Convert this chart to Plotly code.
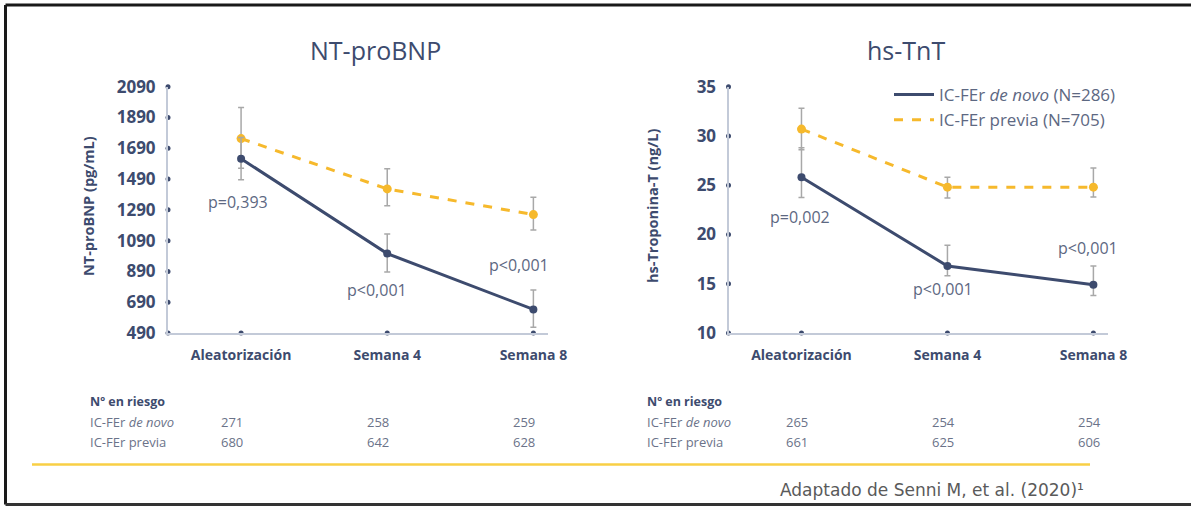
import plotly.graph_objects as go

W, H = 1191, 507

categories = ["Aleatorización", "Semana 4", "Semana 8"]
cat_idx = [0, 1, 2]

# NT-proBNP (pg/mL)
bnp_novo = [1622, 1006, 643]
bnp_novo_hi = [1760, 1133, 769]
bnp_novo_lo = [1485, 886, 527]
bnp_previa = [1753, 1426, 1259]
bnp_previa_hi = [1955, 1557, 1372]
bnp_previa_lo = [1560, 1317, 1159]
bnp_ticks = [490, 690, 890, 1090, 1290, 1490, 1690, 1890, 2090]
bnp_pvals = ["p=0,393", "p<0,001", "p<0,001"]

# hs-TnT (ng/L)
tnt_novo = [25.8, 16.8, 14.9]
tnt_novo_hi = [28.8, 18.9, 16.8]
tnt_novo_lo = [23.75, 15.8, 13.8]
tnt_previa = [30.7, 24.8, 24.8]
tnt_previa_hi = [32.8, 25.8, 26.75]
tnt_previa_lo = [28.6, 23.7, 23.8]
tnt_ticks = [10, 15, 20, 25, 30, 35]
tnt_pvals = ["p=0,002", "p<0,001", "p<0,001"]

# Nº en riesgo
risk_bnp_novo = [271, 258, 259]
risk_bnp_previa = [680, 642, 628]
risk_tnt_novo = [265, 254, 254]
risk_tnt_previa = [661, 625, 606]

NAVY = "#3d4b6e"
YELLOW = "#f6b92c"
ERR = "#a8a8a8"
AXIS = "#c3cad8"
TXT = "#5d6882"
FONT = "Open Sans"

def px_x(p):
    return p / W

def px_y(p):
    return 1 - p / H

fig = go.Figure()

def err(vals, hi, lo):
    return dict(type="data", symmetric=False,
                array=[h - v for h, v in zip(hi, vals)],
                arrayminus=[v - l for v, l in zip(vals, lo)],
                color=ERR, thickness=1.5, width=3)

def add_panel(xa, ya, novo, nhi, nlo, prev, phi, plo, ticks, legend):
    fig.add_trace(go.Scatter(
        x=cat_idx, y=prev, xaxis=xa, yaxis=ya, mode="lines+markers",
        line=dict(color=YELLOW, width=3, dash="dash"),
        marker=dict(color=YELLOW, size=9), error_y=err(prev, phi, plo),
        showlegend=False))
    fig.add_trace(go.Scatter(
        x=cat_idx, y=novo, xaxis=xa, yaxis=ya, mode="lines+markers",
        line=dict(color=NAVY, width=3),
        marker=dict(color=NAVY, size=8), error_y=err(novo, nhi, nlo),
        showlegend=False))
    # axis dots
    fig.add_trace(go.Scatter(
        x=[-0.5] * len(ticks), y=ticks, xaxis=xa, yaxis=ya, mode="markers",
        marker=dict(color=NAVY, size=5), cliponaxis=False,
        showlegend=False, hoverinfo="skip"))
    fig.add_trace(go.Scatter(
        x=cat_idx, y=[ticks[0]] * 3, xaxis=xa, yaxis=ya, mode="markers",
        marker=dict(color=NAVY, size=5), cliponaxis=False,
        showlegend=False, hoverinfo="skip"))
    if legend:
        fig.add_trace(go.Scatter(
            x=[None], y=[None], xaxis=xa, yaxis=ya, mode="lines",
            line=dict(color=NAVY, width=3),
            name="IC-FEr <i>de novo</i> (N=286)", legendrank=1))
        fig.add_trace(go.Scatter(
            x=[None], y=[None], xaxis=xa, yaxis=ya, mode="lines",
            line=dict(color=YELLOW, width=3, dash="dash"),
            name="IC-FEr previa (N=705)", legendrank=2))

add_panel("x", "y", bnp_novo, bnp_novo_hi, bnp_novo_lo,
          bnp_previa, bnp_previa_hi, bnp_previa_lo, bnp_ticks, False)
add_panel("x2", "y2", tnt_novo, tnt_novo_hi, tnt_novo_lo,
          tnt_previa, tnt_previa_hi, tnt_previa_lo, tnt_ticks, True)

ydom = [px_y(333), px_y(86.7)]
xcommon = dict(range=[-0.5, 2.1], tickvals=cat_idx, ticktext=categories,
               showgrid=False, zeroline=False, showline=True, linecolor=AXIS,
               linewidth=2, ticks="", ticklabelstandoff=8, automargin=False,
               tickfont=dict(family=FONT, size=14, color=NAVY, weight="bold"))
ycommon = dict(showgrid=False, zeroline=False, showline=True, linecolor=AXIS,
               linewidth=2, ticks="", ticklabelstandoff=7, automargin=False,
               tickfont=dict(family=FONT, size=17, color=NAVY, weight="bold"))

fig.update_layout(
    width=W, height=H, margin=dict(l=0, r=0, t=0, b=0, autoexpand=False),
    paper_bgcolor="white", plot_bgcolor="white",
    xaxis=dict(domain=[px_x(168), px_x(548)], anchor="y", **xcommon),
    yaxis=dict(domain=ydom, anchor="x", range=[490, 2090], tickvals=bnp_ticks, **ycommon),
    xaxis2=dict(domain=[px_x(728.5), px_x(1108)], anchor="y2", **xcommon),
    yaxis2=dict(domain=ydom, anchor="x2", range=[10, 35], tickvals=tnt_ticks, **ycommon),
    legend=dict(x=px_x(889), y=px_y(77), xanchor="left", yanchor="top",
                bgcolor="rgba(0,0,0,0)", itemwidth=40, tracegroupgap=0,
                font=dict(family=FONT, size=17, color=TXT)),
    showlegend=True,
)

def pann(text, x, y, size, color=NAVY, xanchor="center", bold=False, angle=0, family=FONT):
    f = dict(family=family, size=size, color=color)
    if bold:
        f["weight"] = "bold"
    return dict(text=text, x=px_x(x), y=px_y(y), xref="paper", yref="paper",
                xanchor=xanchor, yanchor="middle", textangle=angle,
                showarrow=False, font=f)

ann = []
# titles
ann.append(pann("NT-proBNP", 375, 50, 25))
ann.append(pann("hs-TnT", 906, 50, 25))
# y titles
ann.append(pann("NT-proBNP (pg/mL)", 88, 206, 14.5, bold=True, angle=-90))
ann.append(pann("hs-Troponina-T (ng/L)", 652, 206, 14.5, bold=True, angle=-90))
# p values
pfont = dict(family=FONT, size=16, color=TXT)
bnp_p_off = [-0.02, -0.07, -0.1]
bnp_p_y = [1340, 770, 935]
for i in cat_idx:
    ann.append(dict(text=bnp_pvals[i], x=i + bnp_p_off[i], y=bnp_p_y[i], xref="x", yref="y",
                    xanchor="center", yanchor="middle", showarrow=False, font=pfont))
tnt_p_off = [-0.01, -0.03, -0.04]
tnt_p_y = [21.8, 14.5, 18.6]
for i in cat_idx:
    ann.append(dict(text=tnt_pvals[i], x=i + tnt_p_off[i], y=tnt_p_y[i], xref="x2", yref="y2",
                    xanchor="center", yanchor="middle", showarrow=False, font=pfont))
# risk table
TCOL = "#6b7389"
tfont = dict(family=FONT, size=13, color=TCOL)
for xa, xleft, novo, prev, shift in [("x", 88, risk_bnp_novo, risk_bnp_previa, -9),
                                     ("x2", 645, risk_tnt_novo, risk_tnt_previa, -4)]:
    ann.append(pann("Nº en riesgo", xleft, 401, 12.5, bold=True, xanchor="left"))
    ann.append(pann("IC-FEr <i>de novo</i>", xleft, 421.7, 13, color=TCOL, xanchor="left"))
    ann.append(pann("IC-FEr previa", xleft, 441.7, 13, color=TCOL, xanchor="left"))
    for i in cat_idx:
        ann.append(dict(text=str(novo[i]), x=i, y=px_y(421.7), xref=xa, yref="paper",
                        xanchor="center", yanchor="middle",
                        xshift=shift, showarrow=False, font=tfont))
        ann.append(dict(text=str(prev[i]), x=i, y=px_y(441.7), xref=xa, yref="paper",
                        xanchor="center", yanchor="middle",
                        xshift=shift, showarrow=False, font=tfont))
# footer
ann.append(pann("Adaptado de Senni M, et al. (2020)¹", 1086, 490, 17, color="#5a5a5a",
                xanchor="right", family="DejaVu Sans"))
fig.update_layout(annotations=ann)

shapes = [
    dict(type="line", xref="paper", yref="paper", x0=px_x(32), x1=px_x(1090),
         y0=px_y(464.5), y1=px_y(464.5), line=dict(color="#f8cf45", width=2.5)),
    dict(type="line", xref="paper", yref="paper", x0=px_x(5.5), x1=1,
         y0=px_y(5), y1=px_y(5), line=dict(color="#1a1a1a", width=3)),
    dict(type="line", xref="paper", yref="paper", x0=px_x(5.5), x1=px_x(5.5),
         y0=px_y(5), y1=px_y(504.5), line=dict(color="#1a1a1a", width=3)),
    dict(type="line", xref="paper", yref="paper", x0=px_x(5.5), x1=1,
         y0=px_y(504.5), y1=px_y(504.5), line=dict(color="#333333", width=3)),
]
fig.update_layout(shapes=shapes)

fig.write_html("out.html", config={"displayModeBar": False},
               post_script="document.body.style.margin='0';document.body.style.overflow='hidden';")
